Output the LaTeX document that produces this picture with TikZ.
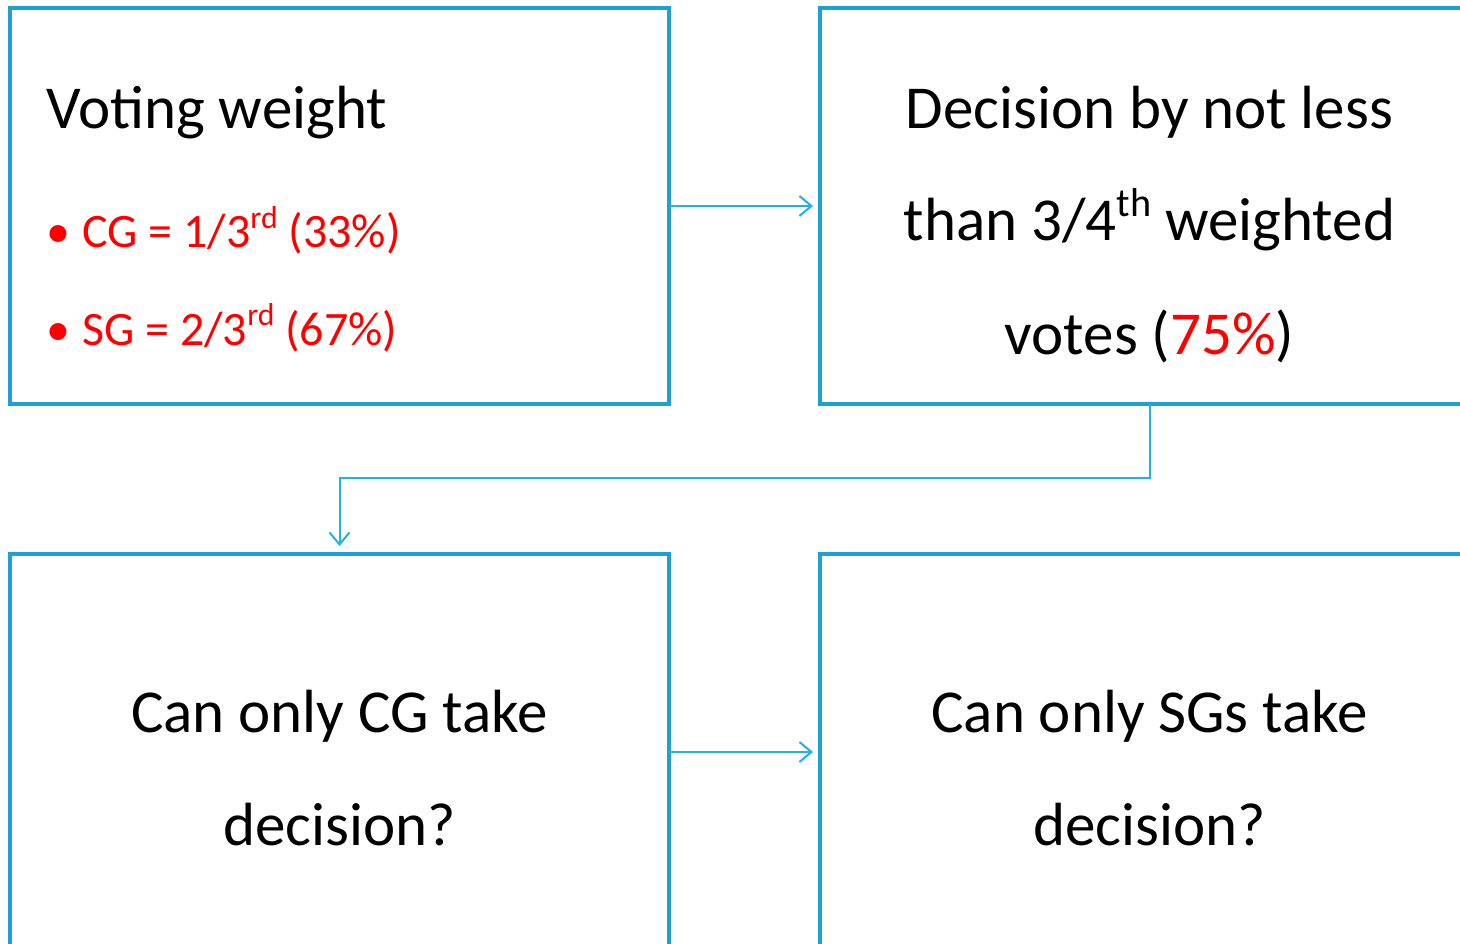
\documentclass[tikz,border=0pt]{standalone}
\usepackage{fontspec}
\setmainfont{Carlito}
\usetikzlibrary{arrows.meta}
\definecolor{boxblue}{RGB}{30,160,212}
\definecolor{linkblue}{RGB}{35,176,230}
\definecolor{hired}{RGB}{255,0,0}
\newcommand\supx[1]{\raisebox{0.4em}{\fontsize{0.66em}{0.66em}\selectfont #1}}
\tikzset{
  box/.style={draw=boxblue, line width=3.5pt, rectangle, minimum width=659pt, minimum height=396pt, inner sep=0pt, outer sep=0pt},
  conn/.style={draw=linkblue, line width=2pt, -{Straight Barb[length=12pt,width=20pt,line width=2pt]}},
  big/.style={font=\fontsize{61}{70}\selectfont, inner sep=0pt},
  small/.style={font=\fontsize{48}{56}\selectfont, text=hired, inner sep=0pt},
}
\begin{document}
\begin{tikzpicture}[x=1pt,y=-1pt]
\useasboundingbox (0,0) rectangle (1460,944);
\clip (0,0) rectangle (1460,944);
\node[box] (box1) at (339.5,206) {};
\node[box] (box2) at (1149.5,206) {};
\node[box] (box3) at (339.5,752) {};
\node[box] (box4) at (1149.5,752) {};
% box 1 text
\node[big, anchor=base west] (t1) at (46,129) {Voting weight};
\node[small, anchor=base west] (b1) at (46,248) {•};
\node[small, anchor=base west] (l1) at (82,248) {CG = 1/3\supx{rd} (33\%)};
\node[small, anchor=base west] (b2) at (46,345) {•};
\node[small, anchor=base west] (l2) at (82,345) {SG = 2/3\supx{rd} (67\%)};
% box 2 text
\node[big, anchor=base] (t2a) at (1149.5,129) {Decision by not less};
\node[big, anchor=base] (t2b) at (1149.5,241) {than 3/4\supx{th} weighted};
\node[big, anchor=base] (t2c) at (1149.5,354) {votes (\textcolor{hired}{75\%})};
% box 3 text
\node[big, anchor=base] (t3a) at (339.5,732) {Can only CG take};
\node[big, anchor=base] (t3b) at (339.5,845) {decision?};
% box 4 text
\node[big, anchor=base] (t4a) at (1149.5,732) {Can only SGs take};
\node[big, anchor=base] (t4b) at (1149.5,845) {decision?};
% connectors
\coordinate (mid) at (0,478);
\draw[conn, shorten >=7pt] (box1.east) -- (box2.west);
\draw[conn, shorten >=8pt] (box2.south) -- (box2.south |- mid) -| (box3.north);
\draw[conn, shorten >=7pt] (box3.east) -- (box4.west);
\end{tikzpicture}
\end{document}
